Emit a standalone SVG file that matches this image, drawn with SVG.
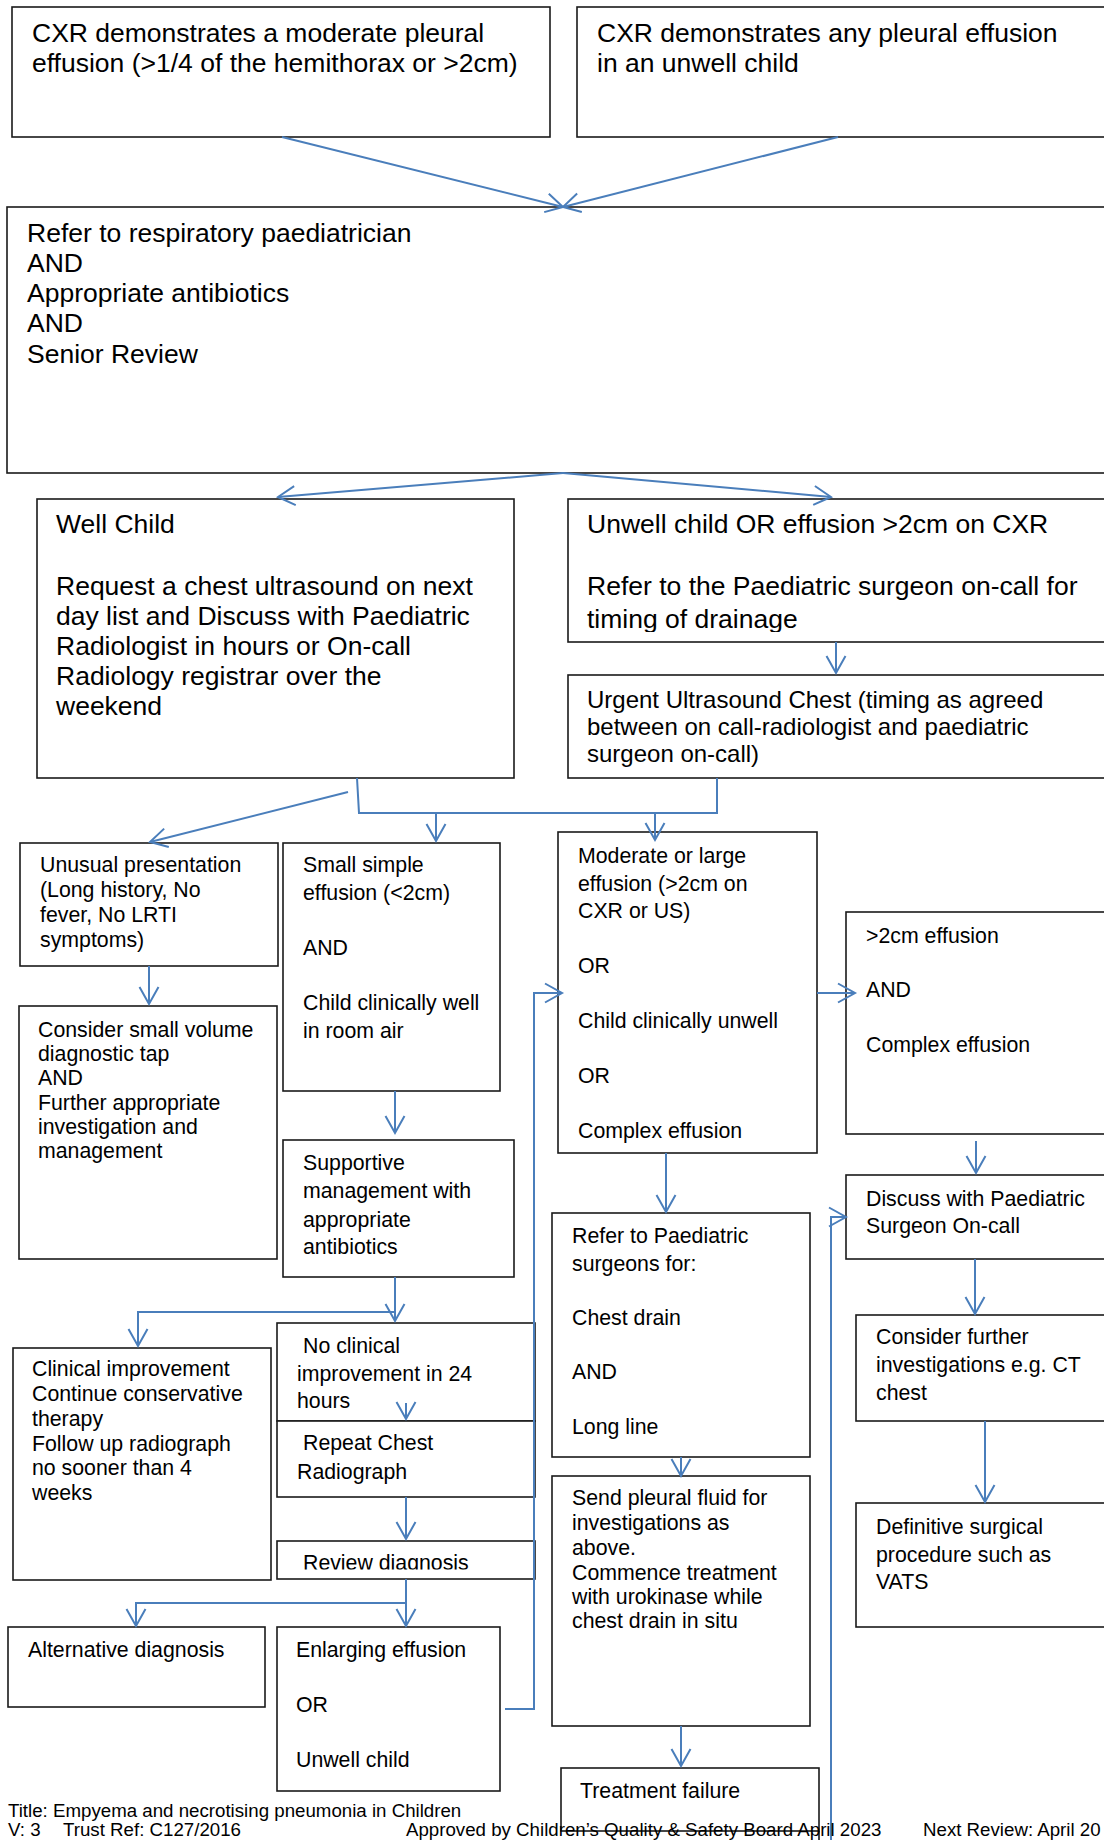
<svg xmlns="http://www.w3.org/2000/svg" width="1104" height="1840" viewBox="0 0 1104 1840">
<style>
.box{fill:#fff;stroke:#1a1a1a;stroke-width:1.6}
.t{font-family:"Liberation Sans",Arial,sans-serif;fill:#000}
.L{font-size:26.5px}
.M{font-size:24px}
.S{font-size:21.3px}
.F{font-size:18.7px}
.c{fill:none;stroke:#4a7ebb;stroke-width:2}
.a{marker-end:url(#arr)}
</style>
<defs>
<marker id="arr" markerUnits="userSpaceOnUse" markerWidth="22" markerHeight="24" viewBox="-19 -12 22 24" refX="0" refY="0" orient="auto">
<path d="M-17,-9.5 L0,0 L-17,9.5" fill="none" stroke="#4a7ebb" stroke-width="2"/>
</marker>
<clipPath id="clipUnwell"><rect x="560" y="490" width="560" height="142"/></clipPath>
<clipPath id="clipReview"><rect x="270" y="1535" width="270" height="34.5"/></clipPath>
</defs>

<g id="n-cxr-moderate">
<rect class="box" x="12" y="7" width="538" height="130"/>
<text class="t L"><tspan x="32" y="42">CXR demonstrates a moderate pleural</tspan><tspan x="32" y="72">effusion (&gt;1/4 of the hemithorax or &gt;2cm)</tspan></text>
</g>
<g id="n-cxr-any">
<rect class="box" x="577" y="7" width="540" height="130"/>
<text class="t L"><tspan x="597" y="42">CXR demonstrates any pleural effusion</tspan><tspan x="597" y="72">in an unwell child</tspan></text>
</g>
<g id="n-refer-resp">
<rect class="box" x="7" y="207" width="1110" height="266"/>
<text class="t L"><tspan x="27" y="242">Refer to respiratory paediatrician</tspan><tspan x="27" y="272">AND</tspan><tspan x="27" y="302">Appropriate antibiotics</tspan><tspan x="27" y="332">AND</tspan><tspan x="27" y="363">Senior Review</tspan></text>
</g>
<g id="n-well">
<rect class="box" x="37" y="499" width="477" height="279"/>
<text class="t L"><tspan x="56" y="533">Well Child</tspan><tspan x="56" y="595">Request a chest ultrasound on next</tspan><tspan x="56" y="625">day list and Discuss with Paediatric</tspan><tspan x="56" y="655">Radiologist in hours or On-call</tspan><tspan x="56" y="685">Radiology registrar over the</tspan><tspan x="56" y="715">weekend</tspan></text>
</g>
<g id="n-unwell">
<rect class="box" x="568" y="499" width="550" height="143"/>
<text class="t L" clip-path="url(#clipUnwell)"><tspan x="587" y="533">Unwell child OR effusion &gt;2cm on CXR</tspan><tspan x="587" y="595">Refer to the Paediatric surgeon on-call for</tspan><tspan x="587" y="628">timing of drainage</tspan></text>
</g>
<g id="n-urgent-us">
<rect class="box" x="568" y="675" width="550" height="103"/>
<text class="t M"><tspan x="587" y="708">Urgent Ultrasound Chest (timing as agreed</tspan><tspan x="587" y="735">between on call-radiologist and paediatric</tspan><tspan x="587" y="762">surgeon on-call)</tspan></text>
</g>
<g id="n-unusual">
<rect class="box" x="20" y="843" width="258" height="123"/>
<text class="t S"><tspan x="40" y="872">Unusual presentation</tspan><tspan x="40" y="897">(Long history, No</tspan><tspan x="40" y="922">fever, No LRTI</tspan><tspan x="40" y="947">symptoms)</tspan></text>
</g>
<g id="n-consider-tap">
<rect class="box" x="19" y="1006" width="258" height="253"/>
<text class="t S"><tspan x="38" y="1037">Consider small volume</tspan><tspan x="38" y="1061">diagnostic tap</tspan><tspan x="38" y="1085">AND</tspan><tspan x="38" y="1110">Further appropriate</tspan><tspan x="38" y="1134">investigation and</tspan><tspan x="38" y="1158">management</tspan></text>
</g>
<g id="n-small">
<rect class="box" x="283" y="843" width="217" height="248"/>
<text class="t S"><tspan x="303" y="872">Small simple</tspan><tspan x="303" y="900">effusion (&lt;2cm)</tspan><tspan x="303" y="955">AND</tspan><tspan x="303" y="1010">Child clinically well</tspan><tspan x="303" y="1038">in room air</tspan></text>
</g>
<g id="n-supportive">
<rect class="box" x="283" y="1140" width="231" height="137"/>
<text class="t S"><tspan x="303" y="1170">Supportive</tspan><tspan x="303" y="1198">management with</tspan><tspan x="303" y="1227">appropriate</tspan><tspan x="303" y="1254">antibiotics</tspan></text>
</g>
<g id="n-clinical-improvement">
<rect class="box" x="13" y="1348" width="258" height="232"/>
<text class="t S"><tspan x="32" y="1376">Clinical improvement</tspan><tspan x="32" y="1401">Continue conservative</tspan><tspan x="32" y="1426">therapy</tspan><tspan x="32" y="1451">Follow up radiograph</tspan><tspan x="32" y="1475">no sooner than 4</tspan><tspan x="32" y="1500">weeks</tspan></text>
</g>
<g id="n-no-improvement">
<rect class="box" x="277" y="1323" width="258" height="98"/>
<text class="t S"><tspan x="303" y="1353">No clinical</tspan><tspan x="297" y="1381">improvement in 24</tspan><tspan x="297" y="1408">hours</tspan></text>
</g>
<g id="n-repeat-cxr">
<rect class="box" x="277" y="1421" width="258" height="76"/>
<text class="t S"><tspan x="303" y="1450">Repeat Chest</tspan><tspan x="297" y="1479">Radiograph</tspan></text>
</g>
<g id="n-review">
<rect class="box" x="277" y="1541" width="258" height="38"/>
<text class="t S" clip-path="url(#clipReview)"><tspan x="303" y="1570">Review diagnosis</tspan></text>
</g>
<g id="n-alternative">
<rect class="box" x="8" y="1627" width="257" height="80"/>
<text class="t S"><tspan x="28" y="1657">Alternative diagnosis</tspan></text>
</g>
<g id="n-enlarging">
<rect class="box" x="277" y="1627" width="223" height="164"/>
<text class="t S"><tspan x="296" y="1657">Enlarging effusion</tspan><tspan x="296" y="1712">OR</tspan><tspan x="296" y="1767">Unwell child</tspan></text>
</g>
<g id="n-moderate-large">
<rect class="box" x="558" y="832" width="259" height="321"/>
<text class="t S"><tspan x="578" y="863">Moderate or large</tspan><tspan x="578" y="891">effusion (&gt;2cm on</tspan><tspan x="578" y="918">CXR or US)</tspan><tspan x="578" y="973">OR</tspan><tspan x="578" y="1028">Child clinically unwell</tspan><tspan x="578" y="1083">OR</tspan><tspan x="578" y="1138">Complex effusion</tspan></text>
</g>
<g id="n-gt2cm-complex">
<rect class="box" x="846" y="912" width="270" height="222"/>
<text class="t S"><tspan x="866" y="943">&gt;2cm effusion</tspan><tspan x="866" y="997">AND</tspan><tspan x="866" y="1052">Complex effusion</tspan></text>
</g>
<g id="n-discuss-surgeon">
<rect class="box" x="846" y="1175" width="270" height="84"/>
<text class="t S"><tspan x="866" y="1206">Discuss with Paediatric</tspan><tspan x="866" y="1233">Surgeon On-call</tspan></text>
</g>
<g id="n-consider-ct">
<rect class="box" x="856" y="1315" width="260" height="106"/>
<text class="t S"><tspan x="876" y="1344">Consider further</tspan><tspan x="876" y="1372">investigations e.g. CT</tspan><tspan x="876" y="1400">chest</tspan></text>
</g>
<g id="n-definitive">
<rect class="box" x="856" y="1503" width="260" height="124"/>
<text class="t S"><tspan x="876" y="1534">Definitive surgical</tspan><tspan x="876" y="1562">procedure such as</tspan><tspan x="876" y="1589">VATS</tspan></text>
</g>
<g id="n-refer-surgeons">
<rect class="box" x="552" y="1213" width="258" height="244"/>
<text class="t S"><tspan x="572" y="1243">Refer to Paediatric</tspan><tspan x="572" y="1271">surgeons for:</tspan><tspan x="572" y="1325">Chest drain</tspan><tspan x="572" y="1379">AND</tspan><tspan x="572" y="1434">Long line</tspan></text>
</g>
<g id="n-send-fluid">
<rect class="box" x="552" y="1476" width="258" height="250"/>
<text class="t S"><tspan x="572" y="1505">Send pleural fluid for</tspan><tspan x="572" y="1530">investigations as</tspan><tspan x="572" y="1555">above.</tspan><tspan x="572" y="1580">Commence treatment</tspan><tspan x="572" y="1604">with urokinase while</tspan><tspan x="572" y="1628">chest drain in situ</tspan></text>
</g>
<g id="n-treatment-failure">
<rect class="box" x="561" y="1768" width="258" height="63"/>
<line x1="819" y1="1831" x2="819" y2="1842" stroke="#1a1a1a" stroke-width="1.6"/>
<text class="t S"><tspan x="580" y="1798">Treatment failure</tspan></text>
</g>

<g id="connectors">
<path class="c a" d="M282,137 L563,207"/>
<path class="c a" d="M838,137 L563,207"/>
<path class="c a" d="M563,473 L278,497"/>
<path class="c a" d="M563,473 L831,497"/>
<path class="c a" d="M836,642 L836,673"/>
<path class="c" d="M357,778 L359,813 L717,813 L717,778"/>
<path class="c a" d="M436,813 L436,841"/>
<path class="c a" d="M655,813 L655,840"/>
<path class="c a" d="M348,792 L150,842"/>
<path class="c a" d="M149,966 L149,1004"/>
<path class="c a" d="M395,1091 L395,1133"/>
<path class="c a" d="M395,1277 L395,1321"/>
<path class="c a" d="M395,1312 L138,1312 L138,1346"/>
<path class="c a" d="M406,1403 L406,1419"/>
<path class="c a" d="M406,1497 L406,1539"/>
<path class="c a" d="M406,1579 L406,1626"/>
<path class="c a" d="M406,1603 L136,1603 L136,1626"/>
<path class="c a" d="M505,1709 L534,1709 L534,993 L562,993"/>
<path class="c a" d="M817,993 L855,993"/>
<path class="c a" d="M976,1141 L976,1173"/>
<path class="c a" d="M975,1259 L975,1314"/>
<path class="c a" d="M985,1421 L985,1502"/>
<path class="c a" d="M666,1153 L666,1212"/>
<path class="c a" d="M681,1457 L681,1476"/>
<path class="c a" d="M681,1726 L681,1766"/>
<path class="c a" d="M831,1842 L831,1217 L846,1217"/>
</g>

<g id="footer">
<text class="t F" x="8" y="1817">Title: Empyema and necrotising pneumonia in Children</text>
<text class="t F" x="8" y="1836">V: 3</text>
<text class="t F" x="63" y="1836">Trust Ref: C127/2016</text>
<text class="t F" x="406" y="1836">Approved by Children’s Quality &amp; Safety Board  April 2023</text>
<text class="t F" x="923" y="1836">Next Review: April 20</text>
</g>
</svg>
